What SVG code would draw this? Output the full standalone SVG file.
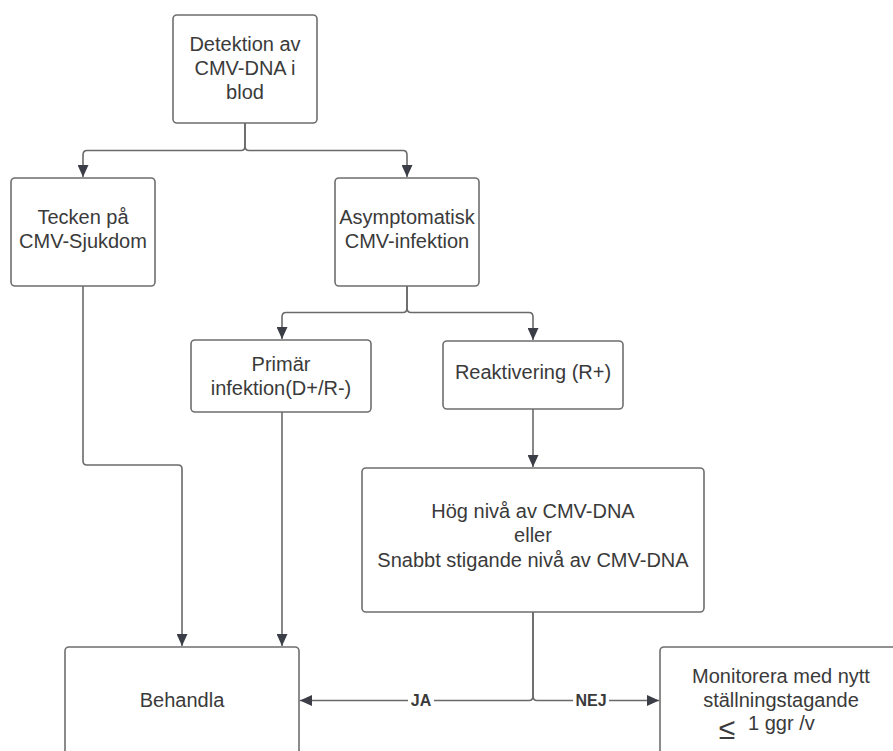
<svg xmlns="http://www.w3.org/2000/svg" width="893" height="751" viewBox="0 0 893 751">
<defs>
<marker id="arr" markerUnits="userSpaceOnUse" markerWidth="12" markerHeight="11" refX="12" refY="5.5" orient="auto">
<path d="M0,0 L12,5.5 L0,11 z" fill="#3b3e46"/>
</marker>
<style>
.box{fill:#ffffff;stroke:#6e6e6e;stroke-width:1.6}
.t{font-family:"Liberation Sans",Arial,sans-serif;font-size:20px;fill:#3a3a3a;text-anchor:middle}
.c{fill:none;stroke:#6a6a6a;stroke-width:1.6}
.lbl{font-family:"Liberation Sans",Arial,sans-serif;font-size:16px;font-weight:bold;fill:#3a3a3a;text-anchor:middle}
</style>
</defs>
<rect width="893" height="751" fill="#ffffff"/>

<g id="connectors">
<path class="c" d="M245,123 V146 Q245,150.5 241,150.5 H87 Q83,150.5 83,155 V177" marker-end="url(#arr)"/>
<path class="c" d="M245,123 V146 Q245,150.5 249,150.5 H403 Q407,150.5 407,155 V177" marker-end="url(#arr)"/>
<path class="c" d="M407,286 V308 Q407,312.5 403,312.5 H286 Q282,312.5 282,317 V339" marker-end="url(#arr)"/>
<path class="c" d="M407,286 V308 Q407,312.5 411,312.5 H529 Q533,312.5 533,317 V340" marker-end="url(#arr)"/>
<path class="c" d="M83,286 V461 Q83,465 87,465 H178 Q182,465 182,469 V646" marker-end="url(#arr)"/>
<path class="c" d="M282,412 V646" marker-end="url(#arr)"/>
<path class="c" d="M533,409 V467" marker-end="url(#arr)"/>
<path class="c" d="M533,612 V696 Q533,700.5 529,700.5 H300" marker-end="url(#arr)"/>
<path class="c" d="M533,612 V696 Q533,700.5 537,700.5 H659" marker-end="url(#arr)"/>
<rect x="408" y="691" width="26" height="18" fill="#ffffff"/>
<text class="lbl" x="421" y="706">JA</text>
<rect x="573" y="691" width="36" height="18" fill="#ffffff"/>
<text class="lbl" x="591" y="706">NEJ</text>
</g>

<g id="detektion">
<rect class="box" x="173" y="15" width="144" height="108" rx="4"/>
<text class="t" x="245" y="50.5">Detektion av</text>
<text class="t" x="245" y="75">CMV-DNA i</text>
<text class="t" x="245" y="98.5">blod</text>
</g>

<g id="tecken">
<rect class="box" x="11" y="178" width="144" height="108" rx="4"/>
<text class="t" x="83" y="224">Tecken på</text>
<text class="t" x="83" y="248">CMV-Sjukdom</text>
</g>

<g id="asymptomatisk">
<rect class="box" x="335" y="178" width="144" height="108" rx="4"/>
<text class="t" x="407" y="224">Asymptomatisk</text>
<text class="t" x="407" y="248">CMV-infektion</text>
</g>

<g id="primar">
<rect class="box" x="191" y="340" width="180" height="72" rx="4"/>
<text class="t" x="281" y="371">Primär</text>
<text class="t" x="281" y="394.5">infektion(D+/R-)</text>
</g>

<g id="reaktivering">
<rect class="box" x="443" y="341" width="180" height="68" rx="4"/>
<text class="t" x="533" y="379">Reaktivering (R+)</text>
</g>

<g id="hog">
<rect class="box" x="362" y="468" width="342" height="144" rx="4"/>
<text class="t" x="533" y="518">Hög nivå av CMV-DNA</text>
<text class="t" x="533" y="542">eller</text>
<text class="t" x="533" y="566.5">Snabbt stigande nivå av CMV-DNA</text>
</g>

<g id="behandla">
<rect class="box" x="65" y="647" width="234" height="130" rx="4"/>
<text class="t" x="182" y="707">Behandla</text>
</g>

<g id="monitorera">
<rect class="box" x="660" y="647" width="260" height="130" rx="4"/>
<text class="t" x="781" y="683">Monitorera med nytt</text>
<text class="t" x="781" y="706.5">ställningstagande</text>
<text class="t" x="727" y="739" style="font-size:30px">≤</text>
<text class="t" x="748" y="730" style="text-anchor:start">1 ggr /v</text>
</g>
</svg>
